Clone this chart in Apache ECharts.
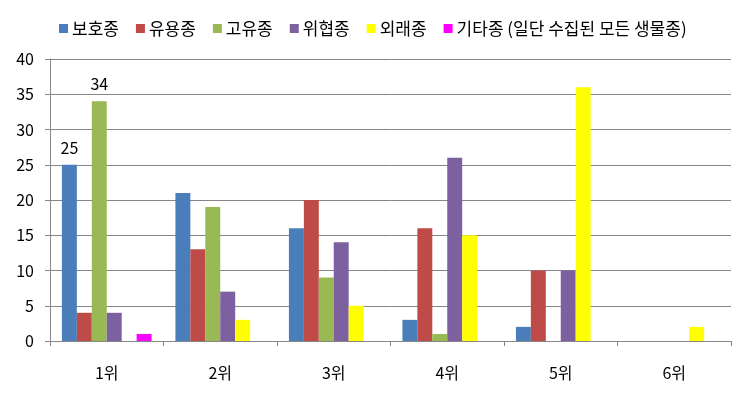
<!DOCTYPE html>
<html><head><meta charset="utf-8">
<script src="https://cdn.jsdelivr.net/npm/echarts@6/dist/echarts.min.js"></script>
<style>html,body{margin:0;padding:0;background:#fff}#c{width:746px;height:401px}</style>
</head><body><div id="c"></div>
<script>
var categories = ['1위','2위','3위','4위','5위','6위'];
var seriesNames = ['보호종','유용종','고유종','위협종','외래종','기타종 (일단 수집된 모든 생물종)'];
var protectedSp = [25, 21, 16, 3, 2, 0];
var usefulSp    = [4, 13, 20, 16, 10, 0];
var endemicSp   = [34, 19, 9, 1, 0, 0];
var threatSp    = [4, 7, 14, 26, 10, 0];
var alienSp     = [0, 3, 5, 15, 36, 2];
var otherSp     = [1, 0, 0, 0, 0, 0];
var yTicks = [0, 5, 10, 15, 20, 25, 30, 35, 40];
var labeled = {'보호종':[0], '고유종':[0]};

var values = [protectedSp, usefulSp, endemicSp, threatSp, alienSp, otherSp];
var colors = ['#4A7EBB','#BE4B48','#98B954','#7D60A0','#FFFF00','#FF00FF'];
var FONT = '"Noto Sans CJK KR", sans-serif';

var series = seriesNames.map(function(n, i){
  var lab = labeled[n] || [];
  return {
    name: n, type: 'bar', barGap: 0, barCategoryGap: '21%',
    itemStyle: {color: colors[i]},
    data: values[i].map(function(v, j){
      if (lab.indexOf(j) >= 0) {
        return {value: v, label: {show: true, position: 'top', distance: 9, color: '#000', fontSize: 16, fontFamily: FONT}};
      }
      return v;
    })
  };
});

var chart = echarts.init(document.getElementById('c'), null, {renderer: 'canvas'});
chart.setOption({
  animation: false,
  color: colors,
  textStyle: {fontFamily: FONT},
  legend: {
    top: 15, left: 54, itemWidth: 9, itemHeight: 9, itemGap: 17,
    icon: 'rect',
    textStyle: {fontSize: 17, color: '#000', fontFamily: FONT, padding: [0,0,0,-1]},
    data: seriesNames
  },
  grid: {left: 50, right: 15, top: 59, bottom: 60, containLabel: false},
  xAxis: {
    type: 'category', data: categories,
    axisLine: {lineStyle: {color: '#868686'}},
    axisTick: {show: true, length: 5, lineStyle: {color: '#868686'}},
    axisLabel: {color: '#000', fontSize: 16, margin: 24, fontFamily: FONT}
  },
  yAxis: {
    type: 'value', min: yTicks[0], max: yTicks[yTicks.length-1], interval: 5,
    axisLine: {show: true, lineStyle: {color: '#868686'}},
    axisTick: {show: true, length: 5, lineStyle: {color: '#868686'}},
    axisLabel: {color: '#000', fontSize: 16, margin: 16, fontFamily: FONT},
    splitLine: {lineStyle: {color: '#868686'}}
  },
  series: series
});
</script></body></html>
